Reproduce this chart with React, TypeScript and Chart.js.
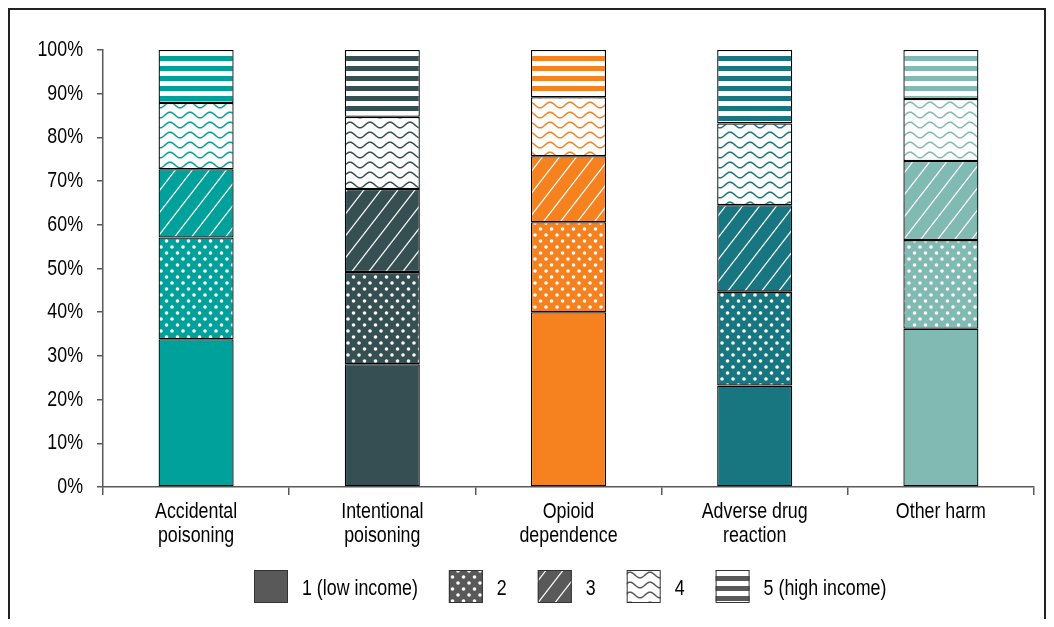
import React, { useEffect, useRef } from 'react';
import { Chart, registerables } from 'chart.js';
Chart.register(...registerables);

const categories: string[][] = [
  ['Accidental', 'poisoning'],
  ['Intentional', 'poisoning'],
  ['Opioid', 'dependence'],
  ['Adverse drug', 'reaction'],
  ['Other harm'],
];
const seriesNames = ['1 (low income)', '2', '3', '4', '5 (high income)'];
const quintile1 = [33.8, 28.1, 40.0, 23.2, 36.2];
const quintile2 = [23.3, 21.1, 20.6, 21.5, 20.3];
const quintile3 = [15.6, 19.0, 15.1, 19.8, 18.1];
const quintile4 = [15.2, 16.5, 13.5, 18.7, 14.2];
const quintile5 = [12.1, 15.3, 10.8, 16.8, 11.2];
const yTicks = [0, 10, 20, 30, 40, 50, 60, 70, 80, 90, 100];

const categoryColors = ['#00A19A', '#354F52', '#F5821F', '#177680', '#80BAB3'];
const legendColor = '#595959';
const FONT = '"Liberation Sans", Arial, sans-serif';
const FONT_SIZE = 22;
const NARROW = 0.81;

type Kind = 'solid' | 'dots' | 'diag' | 'wave' | 'stripes';
const kinds: Kind[] = ['solid', 'dots', 'diag', 'wave', 'stripes'];

function makePattern(ctx: CanvasRenderingContext2D, kind: Kind, color: string): any {
  if (kind === 'solid') return color;
  const c = document.createElement('canvas');
  let w = 10, h = 10;
  if (kind === 'dots') { w = 11; h = 12; }
  if (kind === 'diag') { w = 17; h = 22; }
  if (kind === 'wave') { w = 20; h = 10; }
  if (kind === 'stripes') { w = 10; h = 10; }
  c.width = w; c.height = h;
  const x = c.getContext('2d')!;
  if (kind === 'dots') {
    x.fillStyle = color; x.fillRect(0, 0, w, h);
    x.fillStyle = '#fff';
    x.beginPath(); x.arc(2.5, 3, 1.8, 0, Math.PI * 2); x.fill();
    x.beginPath(); x.arc(8, 9, 1.8, 0, Math.PI * 2); x.fill();
  } else if (kind === 'diag') {
    x.fillStyle = color; x.fillRect(0, 0, w, h);
    x.strokeStyle = '#fff'; x.lineWidth = 1.2;
    for (const dx of [-w, 0, w]) {
      x.beginPath(); x.moveTo(dx - w, 2 * h); x.lineTo(dx + 2 * w, -h); x.stroke();
    }
  } else if (kind === 'wave') {
    x.fillStyle = '#fff'; x.fillRect(0, 0, w, h);
    x.strokeStyle = color; x.lineWidth = 1.5;
    for (const dy of [-h, 0, h]) {
      x.beginPath();
      for (let i = -1; i <= w + 1; i += 0.5) {
        const yy = dy + 5 - 2.8 * Math.cos((2 * Math.PI * i) / w);
        if (i === -1) x.moveTo(i, yy); else x.lineTo(i, yy);
      }
      x.stroke();
    }
  } else if (kind === 'stripes') {
    x.fillStyle = '#fff'; x.fillRect(0, 0, w, h);
    x.fillStyle = color; x.fillRect(0, 6, w, 4); x.fillRect(0, 0, w, 1);
  }
  return ctx.createPattern(c, 'repeat');
}

function narrowText(c: CanvasRenderingContext2D, text: string, x: number, y: number, align: CanvasTextAlign) {
  c.save();
  c.translate(x, y);
  c.scale(NARROW, 1);
  c.textAlign = align;
  c.fillText(text, 0, 0);
  c.restore();
}

export default function App() {
  const ref = useRef<HTMLCanvasElement | null>(null);
  useEffect(() => {
    const canvas = ref.current!;
    const ctx = canvas.getContext('2d')!;
    const seriesData = [quintile1, quintile2, quintile3, quintile4, quintile5];
    const datasets = seriesData.map((data, si) => ({
      label: seriesNames[si],
      data,
      backgroundColor: categoryColors.map((col) => makePattern(ctx, kinds[si], col)),
      borderColor: '#000',
      borderWidth: 1.3,
      borderSkipped: false as any,
      categoryPercentage: 1,
      barPercentage: 0.403,
    }));
    const legendPatterns = kinds.map((k) => makePattern(ctx, k, legendColor));

    const labelsPlugin = {
      id: 'narrowLabels',
      afterDraw(chart: any) {
        const c: CanvasRenderingContext2D = chart.ctx;
        const area = chart.chartArea;
        const xs = chart.scales.x;
        const ys = chart.scales.y;
        c.save();
        c.font = `${FONT_SIZE}px ${FONT}`;
        c.fillStyle = '#000';
        c.textBaseline = 'middle';
        ys.ticks.forEach((t: any) => {
          const py = ys.getPixelForValue(t.value);
          narrowText(c, `${t.value}%`, ys.right - 6 - 14, py, 'right');
        });
        c.textBaseline = 'alphabetic';
        categories.forEach((lines, i) => {
          const px = xs.getPixelForTick(i);
          lines.forEach((ln, li) => {
            narrowText(c, ln, px, area.bottom + 31 + li * 24, 'center');
          });
        });
        const box = 34, boxH = 33, gapText = 14, gapItem = 31;
        const widths = seriesNames.map((n) => c.measureText(n).width * NARROW);
        let total = 0;
        widths.forEach((tw, i) => { total += box + gapText + tw + (i < widths.length - 1 ? gapItem : 0); });
        let x = Math.round((area.left + area.right) / 2 + 2 - total / 2);
        const y = 560;
        seriesNames.forEach((n, i) => {
          c.fillStyle = legendPatterns[i];
          c.fillRect(x, y, box, boxH);
          c.strokeStyle = '#333';
          c.lineWidth = 1;
          c.strokeRect(x + 0.5, y + 0.5, box - 1, boxH - 1);
          c.fillStyle = '#000';
          c.textBaseline = 'alphabetic';
          narrowText(c, n, x + box + gapText, y + 25, 'left');
          x += box + gapText + widths[i] + gapItem;
        });
        c.restore();
      },
    };

    const chart = new Chart(ctx, {
      type: 'bar',
      data: { labels: categories.map((l) => l.join(' ')), datasets: datasets as any },
      options: {
        animation: false,
        responsive: false,
        layout: { padding: { top: 40, right: 10, bottom: 0, left: 0 } },
        plugins: { legend: { display: false }, tooltip: { enabled: false } },
        scales: {
          x: {
            stacked: true,
            offset: true,
            grid: { display: true, offset: true, drawOnChartArea: false, drawTicks: true, tickLength: 8, color: '#595959', lineWidth: 1.5 },
            border: { display: true, color: '#595959', width: 1.5 },
            ticks: { display: false, autoSkip: false },
            afterFit: (s: any) => { s.height = 132; },
          },
          y: {
            stacked: true,
            min: 0,
            max: 100,
            afterBuildTicks: (s: any) => { s.ticks = yTicks.map((v) => ({ value: v })); },
            grid: { display: true, drawOnChartArea: false, drawTicks: true, tickLength: 6, color: '#595959', lineWidth: 1.5 },
            border: { display: true, color: '#595959', width: 1.5 },
            ticks: { display: false },
            afterFit: (s: any) => { s.width = 93; },
          },
        },
      },
      plugins: [labelsPlugin],
    });
    return () => chart.destroy();
  }, []);
  return (
    <div style={{ borderLeft: '2px solid #222', borderTop: '2px solid #222', borderRight: '2px solid #222', width: 1034, height: 609 }}>
      <canvas ref={ref} width={1034} height={609} style={{ display: 'block', width: 1034, height: 609 }} />
    </div>
  );
}
